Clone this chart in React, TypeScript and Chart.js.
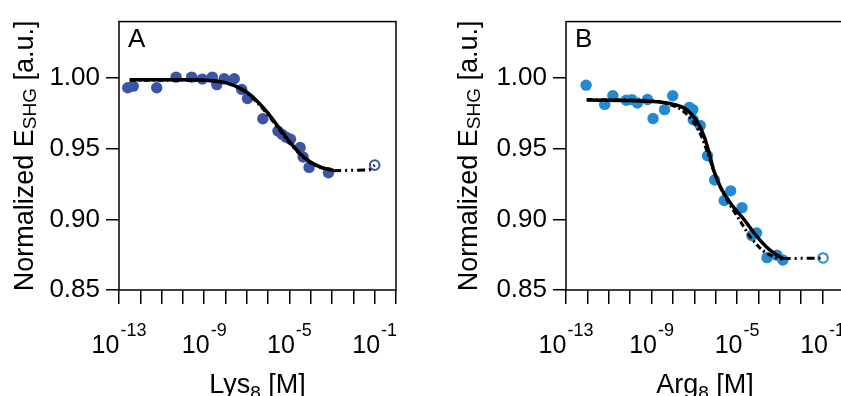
import React, { useEffect, useRef } from "react";
import { Chart, registerables } from "chart.js";

Chart.register(...registerables);

const FONT = "'Liberation Sans', Arial, Helvetica, sans-serif";

// axis ticks
const yTicks = [0.85, 0.9, 0.95, 1.0];
const xDecadeExponents = [-13, -12, -11, -10, -9, -8, -7, -6, -5, -4, -3, -2, -1, 0];
const xLabelExponents = [-13, -9, -5, -1];

// Panel A: Lys8 (log10 of concentration in M, normalized E_SHG)
const lysLogConc = [-12.59, -12.33, -11.23, -10.32, -9.59, -9.09, -8.62, -8.41, -8.06, -7.59, -7.24, -6.97, -6.25, -5.54, -5.35, -5.16, -4.95, -4.5, -4.36, -4.08, -3.17];
const lysSignal = [0.9932, 0.9943, 0.9932, 1.0007, 1.0007, 0.9993, 1.0007, 0.9954, 0.9995, 0.9995, 0.992, 0.9855, 0.9712, 0.9625, 0.9602, 0.9581, 0.9567, 0.9509, 0.9441, 0.9368, 0.933];
const lysOpenLogConc = [-1.0];
const lysOpenSignal = [0.9384];
const lysFitLogConc = [-12.5, -10, -8.5, -8, -7.5, -7, -6.5, -6, -5.5, -5, -4.5, -4, -3.5, -2.95];
const lysFitSignal = [0.9988, 0.9988, 0.998, 0.9968, 0.9942, 0.99, 0.9835, 0.975, 0.965, 0.955, 0.9465, 0.9405, 0.9368, 0.9347];
const lysFit2LogConc = [-12.5, -9, -8, -7.5, -7, -6.5, -6, -5.5, -5, -4.5, -4, -3.5, -2.95];
const lysFit2Signal = [0.9985, 0.9984, 0.9965, 0.9938, 0.9893, 0.9825, 0.9738, 0.964, 0.9543, 0.946, 0.94, 0.9365, 0.9347];
const lysTailLogConc = [-2.95, -1.25, -1.0];
const lysTailSignal = [0.9345, 0.935, 0.9384];

// Panel B: Arg8
const argLogConc = [-12.06, -11.19, -10.81, -10.18, -9.92, -9.66, -9.19, -8.93, -8.39, -8.01, -7.23, -7.07, -7.05, -6.72, -6.38, -6.05, -5.6, -5.3, -4.77, -4.31, -4.09, -3.6, -3.14, -2.86];
const argSignal = [0.995, 0.9814, 0.9875, 0.9843, 0.9848, 0.9824, 0.9849, 0.9714, 0.9777, 0.9875, 0.9793, 0.9777, 0.9705, 0.9664, 0.945, 0.9279, 0.9134, 0.9202, 0.9083, 0.8886, 0.8904, 0.8729, 0.8747, 0.8712];
const argOpenLogConc = [-0.98];
const argOpenSignal = [0.8727];
const argFitLogConc = [-12.03, -8.9, -7.96, -7.33, -6.87, -6.55, -6.32, -6.08, -5.77, -5.3, -4.68, -4.05, -3.42, -2.87];
const argFitSignal = [0.9845, 0.9834, 0.9814, 0.9773, 0.9693, 0.9591, 0.9477, 0.9341, 0.9227, 0.9113, 0.9, 0.8875, 0.8777, 0.8723];
const argFit2LogConc = [-12.03, -9, -8.2, -7.6, -7.1, -6.7, -6.4, -6.15, -5.85, -5.4, -4.9, -4.4, -3.8, -3.2, -2.87];
const argFit2Signal = [0.9848, 0.984, 0.9815, 0.9775, 0.97, 0.96, 0.948, 0.937, 0.925, 0.912, 0.9, 0.888, 0.878, 0.873, 0.8718];
const argTailLogConc = [-2.87, -1.2, -0.98];
const argTailSignal = [0.8723, 0.8725, 0.8727];

const toPts = (lx: number[], ys: number[]) => lx.map((v, i) => ({ x: Math.pow(10, v), y: ys[i] }));

type Panel = {
  letter: string;
  xName: string;
  xSub: string;
  color: string;
  canvasLeft: number;
  canvasWidth: number;
  plotLeft: number;
  rightPad: number;
  yTitleBase: number;
  pts: { x: number; y: number }[];
  open: { x: number; y: number }[];
  fit: { x: number; y: number }[];
  fit2: { x: number; y: number }[];
  tail: { x: number; y: number }[];
};

const panels: Panel[] = [
  {
    letter: "A",
    xName: "Lys",
    xSub: "8",
    color: "#3b54a6",
    canvasLeft: 0,
    canvasWidth: 440,
    plotLeft: 119,
    rightPad: 44,
    yTitleBase: 33,
    pts: toPts(lysLogConc, lysSignal),
    open: toPts(lysOpenLogConc, lysOpenSignal),
    fit: toPts(lysFitLogConc, lysFitSignal),
    fit2: toPts(lysFit2LogConc, lysFit2Signal),
    tail: toPts(lysTailLogConc, lysTailSignal),
  },
  {
    letter: "B",
    xName: "Arg",
    xSub: "8",
    color: "#2389d0",
    canvasLeft: 440,
    canvasWidth: 420,
    plotLeft: 126,
    rightPad: 16,
    yTitleBase: 37,
    pts: toPts(argLogConc, argSignal),
    open: toPts(argOpenLogConc, argOpenSignal),
    fit: toPts(argFitLogConc, argFitSignal),
    fit2: toPts(argFit2LogConc, argFit2Signal),
    tail: toPts(argTailLogConc, argTailSignal),
  },
];

function drawPieces(ctx: CanvasRenderingContext2D, pieces: [string, number, number][], cx: number, base: number) {
  let total = 0;
  const widths = pieces.map(([t, s]) => {
    ctx.font = `${s}px ${FONT}`;
    const w = ctx.measureText(t).width;
    total += w;
    return w;
  });
  let x = cx - total / 2;
  pieces.forEach(([t, s, dy], i) => {
    ctx.font = `${s}px ${FONT}`;
    ctx.fillText(t, x, base + dy);
    x += widths[i];
  });
}

function PanelChart({ p }: { p: Panel }) {
  const ref = useRef<HTMLCanvasElement | null>(null);
  useEffect(() => {
    if (!ref.current) return;
    const textPlugin = {
      id: "texts",
      beforeDatasetsDraw(chart: any) {
        const { ctx, chartArea } = chart;
        ctx.save();
        ctx.strokeStyle = "#000";
        ctx.lineWidth = 1.5;
        ctx.strokeRect(chartArea.left, chartArea.top, chartArea.right - chartArea.left, chartArea.bottom - chartArea.top);
        ctx.restore();
      },
      afterDraw(chart: any) {
        const { ctx, chartArea } = chart;
        const xs = chart.scales.x;
        ctx.save();
        ctx.fillStyle = "#000";
        ctx.textAlign = "left";
        ctx.textBaseline = "alphabetic";
        // panel letter
        ctx.font = `26px ${FONT}`;
        ctx.fillText(p.letter, chartArea.left + 9, 47);
        // x tick labels with superscripts
        xLabelExponents.forEach((e) => {
          const px = xs.getPixelForValue(Math.pow(10, e));
          ctx.font = `25px ${FONT}`;
          const w1 = ctx.measureText("10").width;
          ctx.font = `18px ${FONT}`;
          const sup = `${e}`;
          const w2 = ctx.measureText(sup).width;
          const start = px - (w1 + w2 + 1) / 2;
          ctx.font = `25px ${FONT}`;
          ctx.fillText("10", start, 353);
          ctx.font = `18px ${FONT}`;
          ctx.fillText(sup, start + w1 + 1, 336);
        });
        // x title
        drawPieces(
          ctx,
          [
            [p.xName, 27, 0],
            [p.xSub, 19, 6],
            [" [M]", 27, 0],
          ],
          (chartArea.left + chartArea.right) / 2,
          393
        );
        // y title
        ctx.translate(p.yTitleBase, (chartArea.top + chartArea.bottom) / 2);
        ctx.rotate(-Math.PI / 2);
        drawPieces(
          ctx,
          [
            ["Normalized E", 27, 0],
            ["SHG", 19, 3],
            [" [a.u.]", 27, 0],
          ],
          0,
          0
        );
        ctx.restore();
      },
    };

    const chart = new Chart(ref.current, {
      type: "scatter",
      data: {
        datasets: [
          {
            data: p.fit,
            showLine: true,
            borderColor: "#000",
            borderWidth: 3.5,
            pointRadius: 0,
            cubicInterpolationMode: "monotone",
            order: 0,
          } as any,
          {
            data: p.fit2,
            showLine: true,
            borderColor: "#000",
            borderWidth: 3,
            borderDash: [6, 3, 2, 3],
            pointRadius: 0,
            cubicInterpolationMode: "monotone",
            order: 1,
          } as any,
          {
            data: p.tail,
            showLine: true,
            borderColor: "#000",
            borderWidth: 3,
            borderDash: [8, 4, 2, 4, 2, 4],
            pointRadius: 0,
            order: 1,
          } as any,
          {
            data: p.pts,
            pointRadius: 5.7,
            pointBackgroundColor: p.color,
            pointBorderWidth: 0,
            order: 3,
          } as any,
          {
            data: p.open,
            pointRadius: 4.8,
            pointBackgroundColor: "#fff",
            pointBorderColor: p.color,
            pointBorderWidth: 2,
            order: 2,
          } as any,
        ],
      },
      options: {
        responsive: false,
        animation: false,
        devicePixelRatio: 1,
        layout: { padding: { top: 0, right: p.rightPad, left: 0, bottom: 0 } },
        plugins: { legend: { display: false }, tooltip: { enabled: false }, title: { display: false } },
        scales: {
          x: {
            type: "logarithmic",
            min: 1e-13,
            max: 1,
            border: { display: false },
            grid: { drawOnChartArea: false, drawTicks: true, tickLength: 14, color: "#000", lineWidth: 1.5 },
            ticks: { display: false },
            afterBuildTicks: (s: any) => {
              s.ticks = xDecadeExponents.map((e) => ({ value: Math.pow(10, e) }));
            },
            afterFit: (s: any) => {
              s.height = 106;
            },
          },
          y: {
            min: 0.85,
            max: 1.04,
            border: { display: false },
            grid: { drawOnChartArea: false, drawTicks: true, tickLength: 13, color: "#000", lineWidth: 1.5 },
            ticks: {
              font: { family: FONT, size: 26 },
              color: "#000",
              padding: 6,
              callback: (v: any) => Number(v).toFixed(2),
            },
            afterBuildTicks: (s: any) => {
              s.ticks = yTicks.map((v) => ({ value: v }));
            },
            afterFit: (s: any) => {
              s.width = p.plotLeft;
            },
          },
        },
      } as any,
      plugins: [textPlugin],
    });
    return () => chart.destroy();
  }, [p]);
  return (
    <canvas
      ref={ref}
      width={p.canvasWidth}
      height={396}
      style={{ position: "absolute", left: p.canvasLeft, top: 0, width: p.canvasWidth, height: 396 }}
    />
  );
}

export default function App() {
  return (
    <div
      style={{
        position: "fixed",
        left: 0,
        top: 0,
        width: 841,
        height: 396,
        overflow: "hidden",
        background: "#fff",
      }}
    >
      {panels.map((p) => (
        <PanelChart key={p.letter} p={p} />
      ))}
    </div>
  );
}
